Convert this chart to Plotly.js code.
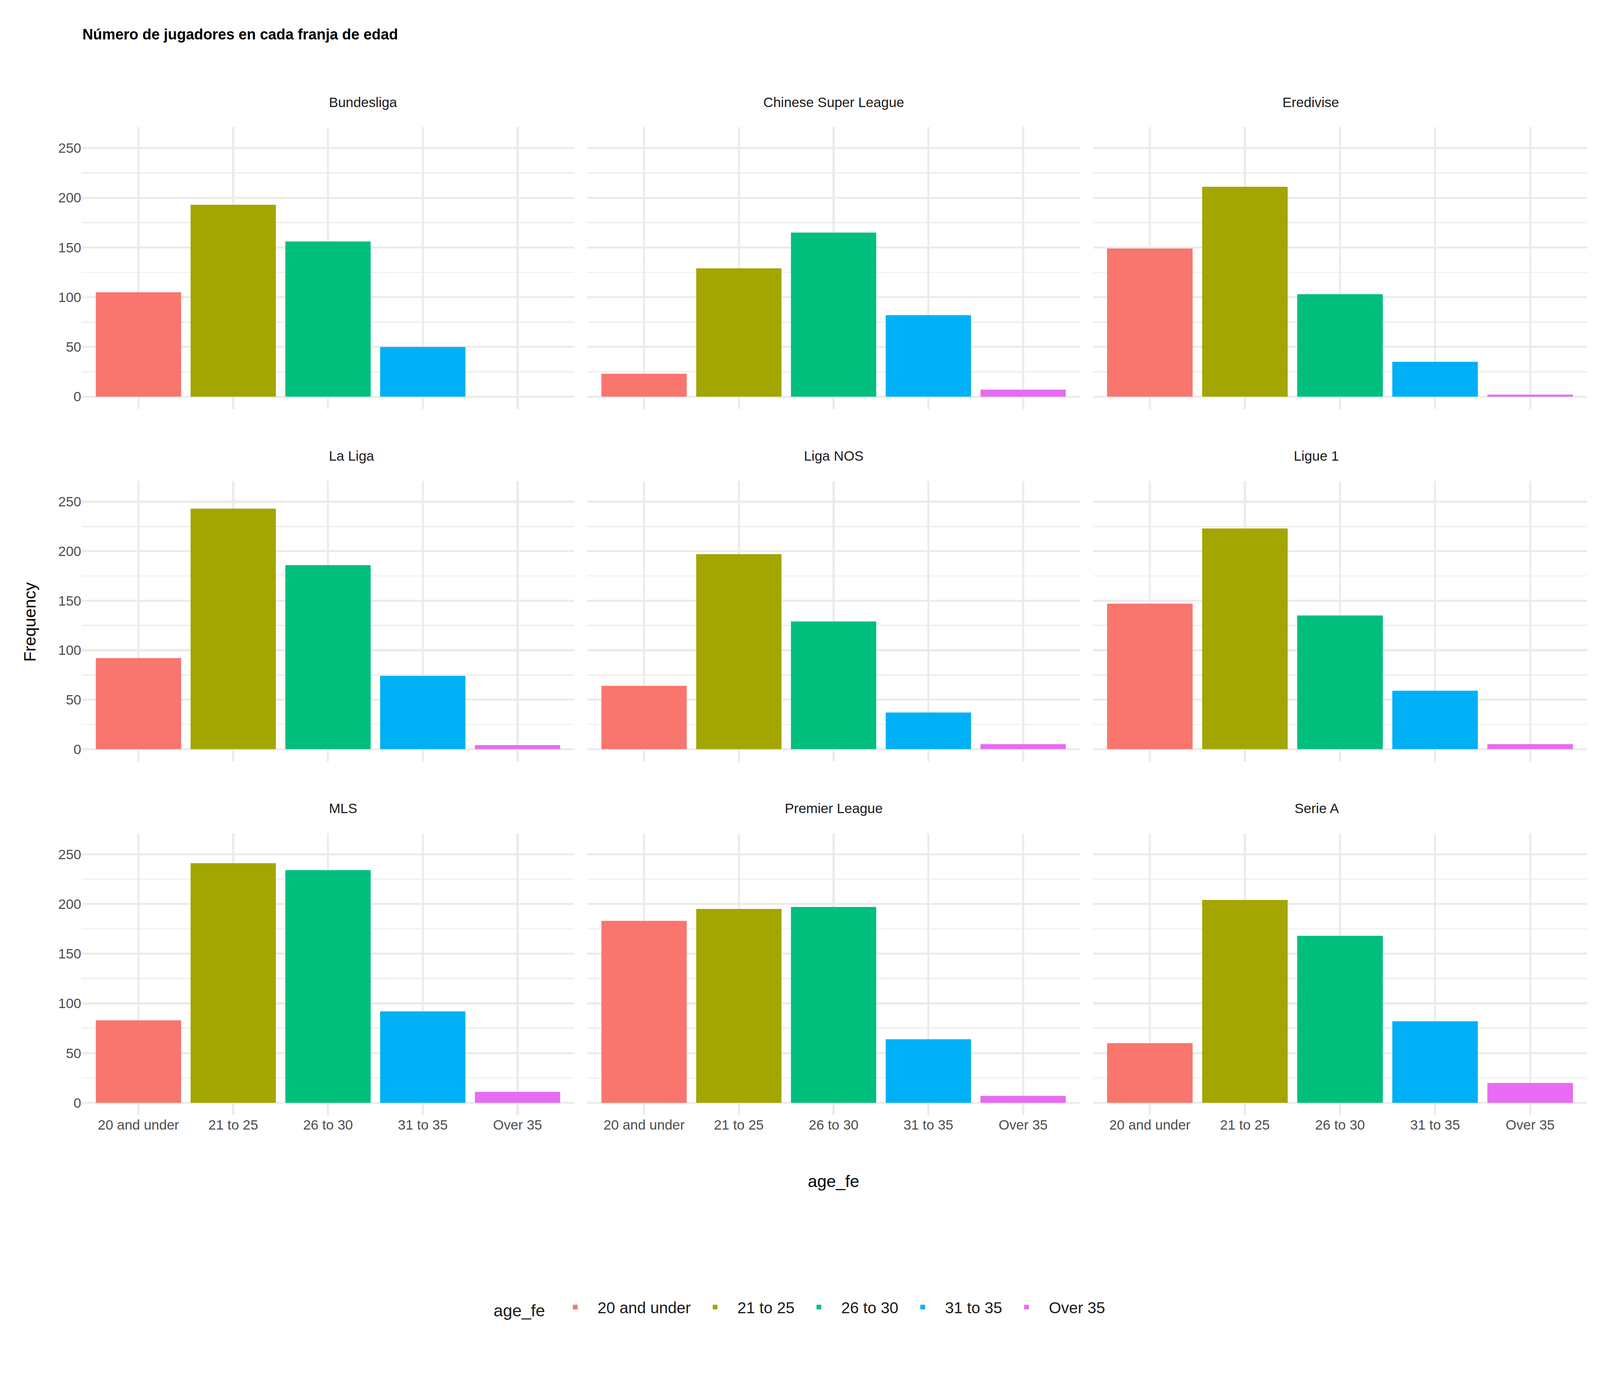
<!DOCTYPE html>
<html>
<head>
<meta charset="utf-8">
<script src="https://cdn.plot.ly/plotly-3.0.1.min.js"></script>
<style>html,body{margin:0;padding:0;background:#fff;overflow:hidden}#chart{width:100vw;height:100vh}</style>
</head>
<body>
<div id="chart"></div>
<script>
const categories = ["20 and under", "21 to 25", "26 to 30", "31 to 35", "Over 35"];
const colors = ["#F8766D", "#A3A500", "#00BF7D", "#00B0F6", "#E76BF3"];
const leagues = ["Bundesliga", "Chinese Super League", "Eredivise",
                 "La Liga", "Liga NOS", "Ligue 1",
                 "MLS", "Premier League", "Serie A"];
const bundesliga = [105, 193, 156, 50, 0];
const chinese = [23, 129, 165, 82, 7];
const eredivise = [149, 211, 103, 35, 2];
const laliga = [92, 243, 186, 74, 4];
const liganos = [64, 197, 129, 37, 5];
const ligue1 = [147, 223, 135, 59, 5];
const mls = [83, 241, 234, 92, 11];
const premier = [183, 195, 197, 64, 7];
const seriea = [60, 204, 168, 82, 20];
const values = [bundesliga, chinese, eredivise, laliga, liganos, ligue1, mls, premier, seriea];

// size everything relative to the actual viewport (reference measured at 1568 wide)
const W = window.innerWidth, H = window.innerHeight;
const s = W / 1568;

const xDomains = [[0.051, 0.359], [0.367, 0.675], [0.683, 0.992]];
const yDomains = [[0.704, 0.908], [0.449, 0.652], [0.193, 0.397]];
const tickFont = { family: "Liberation Sans, Arial, sans-serif", size: 13.5 * s, color: "#4d4d4d" };

const traces = [];
const layout = {
  width: W, height: H,
  margin: { l: 0, r: 0, t: 0, b: 0 },
  paper_bgcolor: "#fff", plot_bgcolor: "#fff",
  barmode: "overlay",
  font: { family: "Liberation Sans, Arial, sans-serif", color: "#1a1a1a" },
  showlegend: true,
  legend: {
    orientation: "h", x: 0.5, xanchor: "center", y: 0.054, yanchor: "middle",
    font: { size: 15.5 * s, color: "#1a1a1a" },
    title: { text: "age_fe ", font: { size: 16.5 * s }, side: "left" },
    itemwidth: 40 * s
  },
  annotations: [
    { text: "<b>Número de jugadores en cada franja de edad</b>", xref: "paper", yref: "paper",
      x: 0.051, y: 0.975, xanchor: "left", yanchor: "middle", showarrow: false,
      font: { size: 14.5 * s, color: "#000" } },
    { text: "Frequency", xref: "paper", yref: "paper", x: 0.012, y: 0.55, textangle: -90,
      showarrow: false, font: { size: 16.5 * s, color: "#000" } },
    { text: "age_fe", xref: "paper", yref: "paper", x: 0.521, y: 0.138,
      showarrow: false, font: { size: 16.5 * s, color: "#000" } }
  ]
};

leagues.forEach((lg, i) => {
  const row = Math.floor(i / 3), col = i % 3;
  const n = i + 1;
  const xa = "x" + (n === 1 ? "" : n), ya = "y" + (n === 1 ? "" : n);
  categories.forEach((c, j) => {
    traces.push({
      type: "bar", x: [c], y: [values[i][j]], width: 0.9,
      marker: { color: colors[j] }, name: c, legendgroup: c,
      showlegend: i === 0, xaxis: xa, yaxis: ya, hoverinfo: "x+y"
    });
  });
  layout["xaxis" + (n === 1 ? "" : n)] = {
    domain: xDomains[col], anchor: ya, type: "category",
    categoryorder: "array", categoryarray: categories,
    range: [-0.6, 4.6], showgrid: true, gridcolor: "#ebebeb", gridwidth: 2 * s,
    showticklabels: row === 2, tickfont: tickFont, ticks: "", zeroline: false,
    showline: false
  };
  layout["yaxis" + (n === 1 ? "" : n)] = {
    domain: yDomains[row], anchor: xa, range: [-12.5, 271],
    tickvals: [0, 50, 100, 150, 200, 250], showgrid: true,
    gridcolor: "#ebebeb", gridwidth: 2 * s,
    minor: { tickvals: [25, 75, 125, 175, 225], showgrid: true, gridcolor: "#ebebeb", gridwidth: 1 * s },
    showticklabels: col === 0, tickfont: tickFont, ticks: "", zeroline: false
  };
  layout.annotations.push({
    text: lg, xref: "paper", yref: "paper",
    x: (xDomains[col][0] + xDomains[col][1]) / 2, y: yDomains[row][1] + 0.012,
    yanchor: "bottom", showarrow: false, font: { size: 13.5 * s, color: "#1a1a1a" }
  });
});

Plotly.newPlot("chart", traces, layout, { staticPlot: true });
</script>
</body>
</html>
